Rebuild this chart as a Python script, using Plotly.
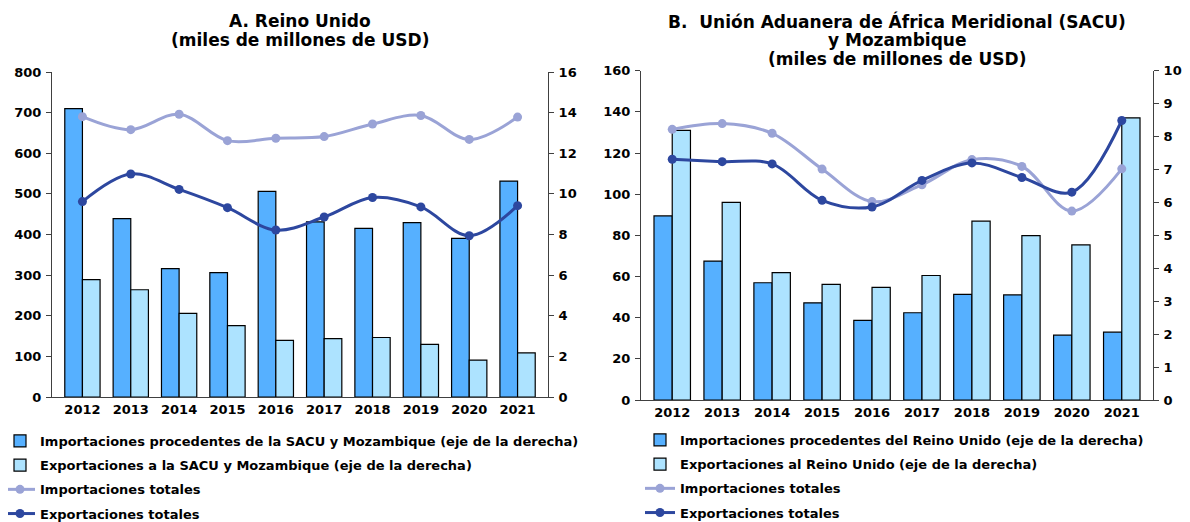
import plotly.graph_objects as go

years = ["2012", "2013", "2014", "2015", "2016", "2017", "2018", "2019", "2020", "2021"]

# A. Reino Unido
uk_imp_sacu = [14.2, 8.78, 6.32, 6.12, 10.12, 8.62, 8.30, 8.58, 7.81, 10.63]
uk_exp_sacu = [5.78, 5.28, 4.12, 3.51, 2.79, 2.87, 2.93, 2.59, 1.82, 2.17]
uk_imp_total = [690, 658, 696, 631, 637, 641, 672, 693, 634, 689]
uk_exp_total = [481, 549, 511, 466, 411, 443, 491, 468, 397, 471]

# B. SACU y Mozambique
sacu_imp_uk = [5.59, 4.22, 3.56, 2.95, 2.42, 2.65, 3.21, 3.19, 1.97, 2.06]
sacu_exp_uk = [8.19, 6.00, 3.87, 3.51, 3.42, 3.78, 5.43, 4.99, 4.71, 8.57]
sacu_imp_total = [131.5, 134.3, 129.6, 112.2, 96.4, 104.6, 116.8, 113.5, 91.8, 112.3]
sacu_exp_total = [117.0, 115.8, 114.7, 97.0, 93.8, 106.7, 115.2, 108.1, 101.0, 135.8]

title_a = ["A. Reino Unido", "(miles de millones de USD)"]
title_b = ["B.  Unión Aduanera de África Meridional (SACU)", "y Mozambique",
           "(miles de millones de USD)"]

# the page body adds an 8px margin, so the figure is a bit smaller than the window
OFF = 8
W, H = 1190 - OFF, 522 - OFF
FONT = "DejaVu Sans"
dark_bar = "#56B0FF"
light_bar = "#ADE3FF"
imp_col = "#9AA3D6"
exp_col = "#2D479F"


def px(x):
    return (x - OFF) / W


def py(y):
    return 1 - (y - OFF) / H


def bar(x, y, name, color, xa, ya, leg):
    return go.Bar(x=x, y=y, name=name, xaxis=xa, yaxis=ya, legend=leg,
                  legendgroup=leg + name,
                  marker=dict(color=color, line=dict(color="black", width=1.2)))


def line(x, y, name, color, xa, ya, leg):
    return go.Scatter(x=x, y=y, name=name, xaxis=xa, yaxis=ya, legend=leg,
                      legendgroup=leg + name, mode="lines+markers",
                      line=dict(color=color, width=3, shape="spline"),
                      marker=dict(color=color, size=9))


traces = [
    bar(years, uk_imp_sacu, "Importaciones procedentes de la SACU y Mozambique (eje de la derecha)",
        dark_bar, "x", "y", "legend"),
    bar(years, uk_exp_sacu, "Exportaciones a la SACU y Mozambique (eje de la derecha)",
        light_bar, "x", "y", "legend"),
    line(years, uk_imp_total, "Importaciones totales", imp_col, "x", "y2", "legend"),
    line(years, uk_exp_total, "Exportaciones totales", exp_col, "x", "y2", "legend"),
    bar(years, sacu_imp_uk, "Importaciones procedentes del Reino Unido (eje de la derecha)",
        dark_bar, "x2", "y3", "legend2"),
    bar(years, sacu_exp_uk, "Exportaciones al Reino Unido (eje de la derecha)",
        light_bar, "x2", "y3", "legend2"),
    line(years, sacu_imp_total, "Importaciones totales", imp_col, "x2", "y4", "legend2"),
    line(years, sacu_exp_total, "Exportaciones totales", exp_col, "x2", "y4", "legend2"),
]

fig = go.Figure(data=traces)

tick_font = dict(family=FONT, size=13, color="black", weight="bold")
axis_common = dict(showgrid=False, zeroline=False, showline=True, linecolor="#404040",
                   linewidth=1, tickfont=tick_font, fixedrange=True, automargin=False)
y_common = dict(axis_common, ticks="outside", ticklen=5, tickcolor="#404040",
                ticklabelstandoff=2)

xd1 = [px(52), px(548)]
xd2 = [px(641), px(1153)]
yd1 = [py(397), py(72)]
yd2 = [py(400), py(70.7)]

legend_font = dict(family=FONT, size=13, color="black", weight="bold")
title_font = dict(family=FONT, size=17, color="black", weight="bold")

annotations = []
for txt, yc in zip(title_a, [21, 40]):
    annotations.append(dict(text=txt, x=sum(xd1) / 2, y=py(yc), xref="paper", yref="paper",
                            xanchor="center", yanchor="middle", showarrow=False,
                            font=title_font))
for txt, yc in zip(title_b, [21, 40, 59]):
    annotations.append(dict(text=txt, x=sum(xd2) / 2, y=py(yc), xref="paper", yref="paper",
                            xanchor="center", yanchor="middle", showarrow=False,
                            font=title_font))

fig.update_layout(
    width=W, height=H,
    margin=dict(l=0, r=0, t=0, b=0, autoexpand=False),
    plot_bgcolor="white", paper_bgcolor="white",
    font=dict(family=FONT, size=13, color="black"),
    barmode="group", bargap=0.27, bargroupgap=0,
    xaxis=dict(axis_common, domain=xd1, anchor="y", type="category"),
    xaxis2=dict(axis_common, domain=xd2, anchor="y3", type="category"),
    yaxis=dict(y_common, domain=yd1, anchor="x", side="right", range=[0, 16], dtick=2),
    yaxis2=dict(y_common, anchor="x", overlaying="y", side="left", range=[0, 800], dtick=100),
    yaxis3=dict(y_common, domain=yd2, anchor="x2", side="right", range=[0, 10], dtick=1),
    yaxis4=dict(y_common, anchor="x2", overlaying="y3", side="left", range=[0, 160], dtick=20),
    legend=dict(x=px(0), y=py(426), xanchor="left", yanchor="top", font=legend_font,
                tracegroupgap=4.3, itemwidth=30, bgcolor="rgba(0,0,0,0)"),
    legend2=dict(x=px(640), y=py(425), xanchor="left", yanchor="top", font=legend_font,
                 tracegroupgap=4.3, itemwidth=30, bgcolor="rgba(0,0,0,0)"),
    annotations=annotations,
)

fig.write_html("out.html")
